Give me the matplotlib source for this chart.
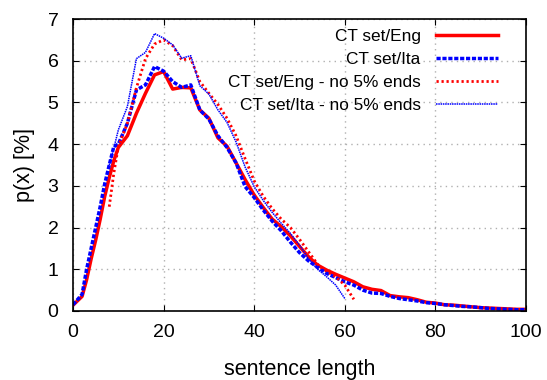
import numpy as np
from matplotlib import pyplot as plt

plt.rcParams['font.family'] = ['Liberation Sans', 'DejaVu Sans']

# sentence length grid (full sets)
x_full = [0, 2, 3, 4, 5, 6, 7, 8, 9, 10] + list(range(12, 101, 2))

p_eng = [0.14, 0.35, 0.75, 1.25, 1.7, 2.2, 2.75, 3.2, 3.6, 3.92,
         4.2, 4.74, 5.22, 5.66, 5.74, 5.32, 5.36, 5.35, 4.82, 4.62,
         4.15, 3.95, 3.55, 3.15, 2.78, 2.48, 2.2, 2.02, 1.8, 1.55,
         1.3, 1.1, 0.98, 0.88, 0.79, 0.70, 0.58, 0.52, 0.49, 0.37,
         0.34, 0.32, 0.27, 0.21, 0.19, 0.15, 0.14, 0.12, 0.1, 0.08,
         0.07, 0.06, 0.05, 0.04, 0.04]

p_ita = [0.15, 0.4, 1.0, 1.5, 2.0, 2.5, 3.05, 3.5, 3.94, 4.0,
         4.5, 5.3, 5.42, 5.86, 5.75, 5.5, 5.36, 5.42, 4.82, 4.6,
         4.2, 3.92, 3.55, 2.98, 2.72, 2.42, 2.15, 1.92, 1.65, 1.4,
         1.2, 1.05, 0.9, 0.8, 0.7, 0.62, 0.5, 0.43, 0.42, 0.35,
         0.3, 0.27, 0.24, 0.2, 0.18, 0.15, 0.13, 0.11, 0.1, 0.08,
         0.06, 0.05, 0.04, 0.03, 0.03]

# sets without the 5% ends
x_eng_cut = [8, 9, 10] + list(range(12, 61, 2)) + [62]
p_eng_cut = [2.5, 3.3, 3.94, 4.5, 5.35, 6.05, 6.4, 6.5, 6.36, 6.02,
             6.05, 5.5, 5.22, 4.95, 4.62, 4.2, 3.65, 3.12, 2.75, 2.45,
             2.2, 2.0, 1.72, 1.42, 1.12, 0.95, 0.82, 0.62, 0.28]

x_ita_cut = [8, 9, 10] + list(range(12, 61, 2))
p_ita_cut = [3.5, 3.9, 4.34, 4.9, 6.05, 6.2, 6.65, 6.54, 6.38, 6.06,
             6.12, 5.4, 5.2, 4.82, 4.52, 4.05, 3.45, 2.98, 2.65, 2.36,
             2.1, 1.86, 1.58, 1.25, 1.0, 0.82, 0.62, 0.3]

fig = plt.figure(figsize=(5.47, 3.80), dpi=100)
ax = fig.add_axes([0.1335, 0.1816, 0.828, 0.7684])

ax.plot(x_full, p_eng, color='#ff0000', lw=2.5, label='CT set/Eng')
ax.plot(x_full, p_ita, color='#0000ff', lw=2.5, dashes=(1.2, 0.5), label='CT set/Ita')
ax.plot(x_eng_cut, p_eng_cut, color='#ff0000', lw=2, dashes=(0.8, 1.0), label='CT set/Eng - no 5% ends')
ax.plot(x_ita_cut, p_ita_cut, color='#0000ff', lw=1.1, dashes=(1, 0.5), label='CT set/Ita - no 5% ends')

ax.set_xlim(0, 100)
ax.set_ylim(0, 7)
ax.set_xticks(range(0, 101, 20))
ax.set_yticks(range(0, 8))
ax.grid(True, color='#b0b0b0', linestyle=(0, (1, 3)), lw=1)
ax.tick_params(direction='in', top=True, right=True, labelsize=14, length=4.5)
ax.tick_params(axis='x', pad=9.5)
ax.tick_params(axis='y', pad=10.5)
for s in ax.spines.values():
    s.set_linewidth(1.2)

ax.set_xlabel('sentence length', fontsize=15.5, labelpad=12.5)
ax.set_ylabel('p(x) [%]', fontsize=15.5, labelpad=9)

ax.legend(loc='upper right', bbox_to_anchor=(0.938, 0.966), frameon=False,
          markerfirst=False, fontsize=12.4, handlelength=3.6, handletextpad=0.88,
          labelspacing=0.47, borderpad=0, borderaxespad=0)

plt.savefig('out.png', dpi=100)
